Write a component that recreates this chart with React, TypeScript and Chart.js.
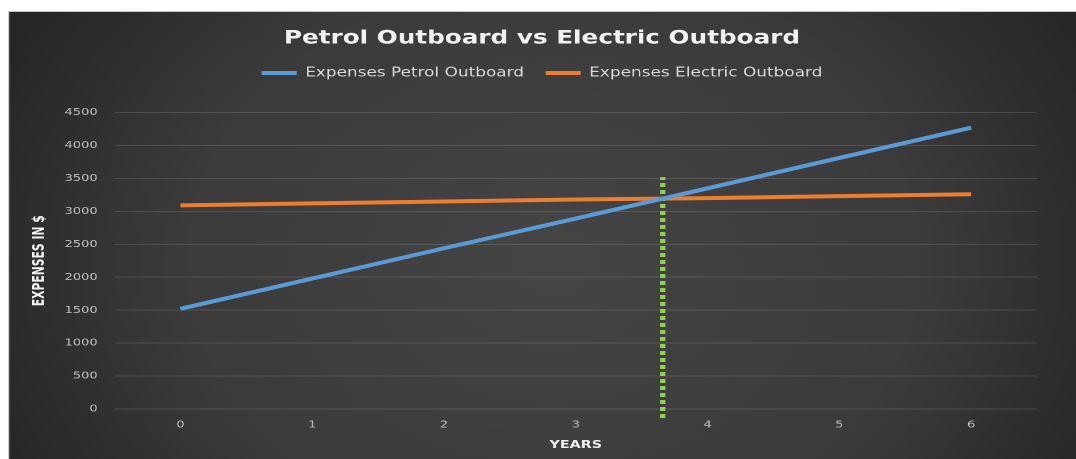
import React, { useEffect, useRef } from "react";
import { Chart, registerables } from "chart.js";

Chart.register(...registerables);

// ---- data ----
const years = [0, 1, 2, 3, 4, 5, 6];
const petrolExpenses = [1520, 1980, 2440, 2890, 3350, 3810, 4270];
const electricExpenses = [3090, 3120, 3150, 3180, 3200, 3230, 3260];
const breakEvenYear = 3.66;
const breakEvenSpan = [-137, 3520];
const seriesNames = ["Expenses Petrol Outboard", "Expenses Electric Outboard"];
const titleText = "Petrol Outboard vs Electric Outboard";
const xTitle = "YEARS";
const yTitle = "EXPENSES IN $";
const yMin = 0;
const yMax = 4500;
const yStep = 500;

// internal drawing size (displayed stretched horizontally, like the reference)
const INNER_W = 822;
const INNER_H = 448;

const backgroundPlugin = {
  id: "darkBackground",
  beforeDraw(chart: any) {
    const { ctx, width, height } = chart;
    ctx.save();
    const g = ctx.createRadialGradient(420, 250, 0, 420, 250, 470);
    g.addColorStop(0, "#454545");
    g.addColorStop(0.6, "#3b3b3b");
    g.addColorStop(1, "#262626");
    ctx.fillStyle = g;
    ctx.fillRect(0, 0, width, height);
    ctx.strokeStyle = "#c8c8c8";
    ctx.lineWidth = 1;
    ctx.beginPath();
    ctx.moveTo(0.5, height);
    ctx.lineTo(0.5, 0.5);
    ctx.lineTo(width, 0.5);
    ctx.stroke();
    ctx.restore();
  },
};

export default function App() {
  const canvasRef = useRef<HTMLCanvasElement | null>(null);

  useEffect(() => {
    const canvas = canvasRef.current;
    if (!canvas) return;
    const chart = new Chart(canvas, {
      type: "line",
      data: {
        datasets: [
          {
            label: seriesNames[0],
            data: years.map((x, i) => ({ x, y: petrolExpenses[i] })),
            borderColor: "#5b9bd5",
            backgroundColor: "#5b9bd5",
            borderWidth: 4,
            pointRadius: 0,
            pointStyle: "line",
            xAxisID: "x",
            yAxisID: "y",
          },
          {
            label: seriesNames[1],
            data: years.map((x, i) => ({ x, y: electricExpenses[i] })),
            borderColor: "#ed7d31",
            backgroundColor: "#ed7d31",
            borderWidth: 4,
            pointRadius: 0,
            pointStyle: "line",
            xAxisID: "x",
            yAxisID: "y",
          },
          {
            label: "break-even",
            data: breakEvenSpan.map((y) => ({ x: breakEvenYear, y })),
            borderColor: "#92d050",
            borderWidth: 4,
            borderDash: [4, 3],
            pointRadius: 0,
            clip: false as any,
            xAxisID: "x",
            yAxisID: "y",
          },
        ],
      },
      options: {
        animation: false,
        responsive: false,
        devicePixelRatio: 2,
        layout: { padding: { top: 0, left: 15, right: 15, bottom: 0 } },
        plugins: {
          title: {
            display: true,
            text: titleText,
            color: "#f2f2f2",
            font: { family: "'DejaVu Sans', sans-serif", size: 19, weight: "bold" },
            padding: { top: 16, bottom: 0 },
          },
          legend: {
            display: true,
            position: "top",
            labels: {
              color: "#d9d9d9",
              font: { family: "'DejaVu Sans', sans-serif", size: 13 },
              usePointStyle: true,
              pointStyleWidth: 27,
              padding: 16.7,
              filter: (item: any) => item.datasetIndex < 2,
            },
          },
          tooltip: { enabled: false },
        },
        scales: {
          x: {
            type: "linear",
            position: "bottom",
            min: -0.5,
            max: 6.5,
            afterBuildTicks: (scale: any) => {
              scale.ticks = years.map((v) => ({ value: v }));
            },
            afterFit: (scale: any) => {
              scale.height = 50;
            },
            grid: { display: false, drawTicks: false },
            border: { display: false },
            ticks: {
              color: "#bfbfbf",
              font: { family: "'DejaVu Sans', sans-serif", size: 10 },
              padding: 10,
              callback: (v: any) => String(v),
            },
            title: {
              display: true,
              text: xTitle,
              color: "#f2f2f2",
              font: { family: "'DejaVu Sans', sans-serif", size: 11, weight: "bold" },
              padding: { top: 0, bottom: 7.4 },
            },
          },
          xTop: {
            type: "linear",
            position: "top",
            display: true,
            grid: { display: false, drawTicks: false },
            border: { display: false },
            ticks: { display: false },
            afterFit: (scale: any) => {
              scale.height = 23;
            },
          },
          y: {
            type: "linear",
            position: "left",
            min: yMin,
            max: yMax,
            afterFit: (scale: any) => {
              scale.width = 67;
            },
            grid: { color: "rgba(255,255,255,0.13)", lineWidth: 1, drawTicks: false },
            border: { display: false },
            ticks: {
              stepSize: yStep,
              color: "#bfbfbf",
              font: { family: "'DejaVu Sans', sans-serif", size: 10 },
              padding: 13,
              callback: (v: any) => String(v),
            },
            title: {
              display: true,
              text: yTitle,
              color: "#f2f2f2",
              font: {
                family: "'DejaVu Sans Condensed', 'DejaVu Sans', sans-serif",
                size: 12,
                weight: "bold",
              },
              padding: { top: 2.4, bottom: 0 },
            },
          },
          yRight: {
            type: "linear",
            position: "right",
            display: true,
            grid: { display: false, drawTicks: false },
            border: { display: false },
            ticks: { display: false },
            afterFit: (scale: any) => {
              scale.width = 15;
            },
          },
        },
      } as any,
      plugins: [backgroundPlugin],
    });
    return () => chart.destroy();
  }, []);

  return (
    <div style={{ position: "absolute", left: 8, top: 11, width: 1068, height: 448 }}>
      <canvas
        ref={canvasRef}
        width={INNER_W}
        height={INNER_H}
        style={{ width: "1068px", height: "448px", display: "block" }}
      />
    </div>
  );
}
